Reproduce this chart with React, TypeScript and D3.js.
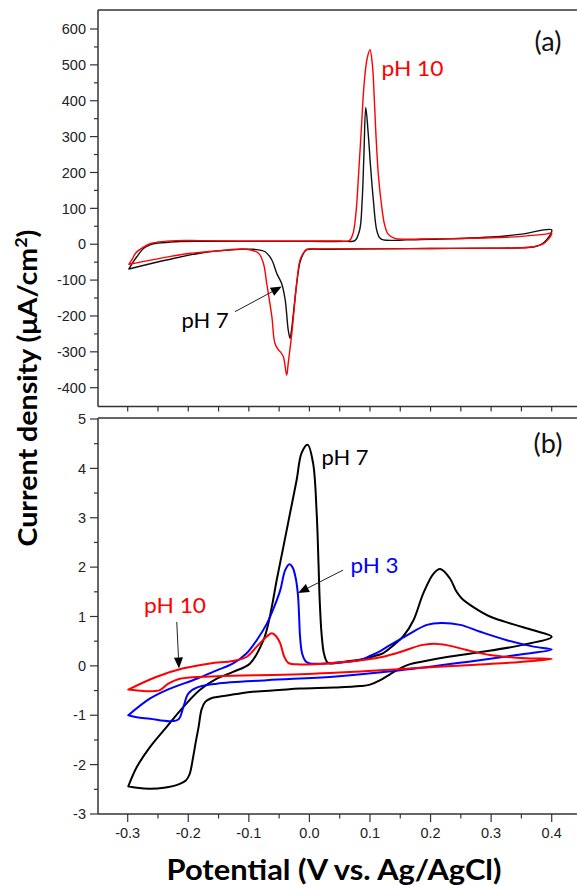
import React from 'react';
import * as d3 from 'd3';

// ---------- tick values / labels ----------
const xTickValues = [-0.3, -0.2, -0.1, 0.0, 0.1, 0.2, 0.3, 0.4];
const xTickLabels = ['-0.3', '-0.2', '-0.1', '0.0', '0.1', '0.2', '0.3', '0.4'];
const topYTickValues = [600, 500, 400, 300, 200, 100, 0, -100, -200, -300, -400];
const topYTickLabels = ['600', '500', '400', '300', '200', '100', '0', '-100', '-200', '-300', '-400'];
const bottomYTickValues = [5, 4, 3, 2, 1, 0, -1, -2, -3];
const bottomYTickLabels = ['5', '4', '3', '2', '1', '0', '-1', '-2', '-3'];

// ---------- panel (a): potential (V), current density (µA/cm²) ----------
const topPh7: [number, number][] = [
  [-0.298, -69], [-0.292, -52], [-0.285, -35], [-0.274, -12], [-0.262, -1], [-0.25, 3], [-0.22, 7],
  [-0.18, 8], [-0.1, 8], [0.0, 8], [0.06, 8], [0.075, 10], [0.083, 40], [0.087, 120], [0.09, 250],
  [0.093, 381], [0.097, 310], [0.101, 216], [0.1055, 124], [0.111, 40], [0.116, 18], [0.122, 12],
  [0.16, 12], [0.2, 14], [0.25, 16], [0.3, 20], [0.35, 28], [0.4, 40],
  [0.395, 20], [0.385, 2], [0.372, -7], [0.35, -10], [0.3, -11], [0.2, -12], [0.1, -13], [0.02, -14],
  [-0.005, -16], [-0.011, -30], [-0.0155, -50], [-0.021, -109], [-0.027, -202], [-0.03, -245],
  [-0.032, -262], [-0.035, -239], [-0.04, -155], [-0.046, -109], [-0.054, -81], [-0.062, -44],
  [-0.073, -21], [-0.093, -14], [-0.115, -14.5], [-0.181, -25], [-0.236, -44], [-0.298, -69],
];
const topPh10: [number, number][] = [
  [-0.298, -56], [-0.292, -40], [-0.287, -25], [-0.274, -8], [-0.262, 2], [-0.25, 6], [-0.22, 10],
  [-0.18, 10], [-0.1, 9], [0.0, 9], [0.05, 9], [0.066, 10], [0.072, 30], [0.077, 90], [0.081, 190],
  [0.086, 330], [0.09, 440], [0.095, 515], [0.1, 542], [0.104, 500], [0.107, 410], [0.11, 300],
  [0.114, 190], [0.119, 110], [0.124, 55], [0.13, 28], [0.14, 17], [0.16, 14], [0.2, 15], [0.25, 16],
  [0.3, 18], [0.35, 22], [0.39, 28], [0.4, 31],
  [0.395, 15], [0.385, 0], [0.37, -7], [0.35, -10], [0.3, -11], [0.2, -12], [0.1, -13], [0.02, -13],
  [-0.004, -14], [-0.01, -25], [-0.0155, -44], [-0.021, -109], [-0.029, -248], [-0.035, -332],
  [-0.0375, -365], [-0.043, -314], [-0.048, -300], [-0.051, -295], [-0.057, -276], [-0.062, -202],
  [-0.0705, -109], [-0.076, -53], [-0.084, -25], [-0.104, -14], [-0.15, -18], [-0.2, -26],
  [-0.236, -36], [-0.298, -56],
];

// ---------- panel (b) ----------
const botPh7: [number, number][] = [
  [-0.299, -2.44], [-0.285, -2.47], [-0.264, -2.49], [-0.24, -2.47], [-0.214, -2.39], [-0.204, -2.32],
  [-0.198, -2.2], [-0.192, -1.85], [-0.187, -1.5], [-0.183, -1.24], [-0.178, -0.88], [-0.172, -0.73],
  [-0.163, -0.66], [-0.153, -0.63], [-0.12, -0.57], [-0.098, -0.53], [-0.05, -0.49], [-0.015, -0.46],
  [0.04, -0.44], [0.084, -0.41], [0.1, -0.38], [0.117, -0.29], [0.133, -0.17], [0.15, -0.05],
  [0.165, 0.03], [0.183, 0.08], [0.227, 0.18], [0.283, 0.28], [0.35, 0.42], [0.4, 0.59],
  [0.37, 0.72], [0.337, 0.84], [0.298, 1.0], [0.272, 1.18], [0.252, 1.36], [0.243, 1.5], [0.232, 1.77],
  [0.216, 1.96], [0.205, 1.87], [0.188, 1.47], [0.172, 0.93], [0.155, 0.6], [0.139, 0.42],
  [0.122, 0.26], [0.105, 0.19], [0.085, 0.13], [0.067, 0.1], [0.045, 0.06], [0.034, 0.05],
  [0.029, 0.08], [0.024, 0.25], [0.02, 0.66], [0.017, 1.33], [0.015, 2.08], [0.012, 3.09],
  [0.006, 4.11], [-0.003, 4.48], [-0.013, 4.31], [-0.021, 3.77], [-0.032, 3.09], [-0.043, 2.41],
  [-0.054, 1.74], [-0.06, 1.33], [-0.068, 0.85], [-0.076, 0.52], [-0.098, 0.05], [-0.126, -0.12],
  [-0.153, -0.26], [-0.181, -0.49], [-0.208, -0.83], [-0.236, -1.24], [-0.263, -1.64],
  [-0.285, -2.05], [-0.299, -2.44],
];
const botPh3: [number, number][] = [
  [-0.299, -1.0], [-0.285, -1.04], [-0.263, -1.07], [-0.23, -1.12], [-0.216, -1.08], [-0.208, -0.83],
  [-0.2, -0.56], [-0.186, -0.44], [-0.153, -0.36], [-0.0705, -0.29], [0.039, -0.22], [0.15, -0.09],
  [0.26, 0.08], [0.342, 0.22], [0.4, 0.33],
  [0.37, 0.39], [0.326, 0.52], [0.282, 0.69], [0.249, 0.83], [0.218, 0.87], [0.194, 0.83],
  [0.161, 0.62], [0.133, 0.42], [0.117, 0.3], [0.1, 0.2], [0.084, 0.12], [0.039, 0.06], [0.001, 0.05],
  [-0.006, 0.09], [-0.012, 0.25], [-0.0155, 0.6], [-0.017, 1.0], [-0.019, 1.45], [-0.023, 1.8],
  [-0.028, 2.0], [-0.033, 2.06], [-0.04, 1.94], [-0.048, 1.54], [-0.058, 1.2], [-0.07, 0.86],
  [-0.087, 0.52], [-0.104, 0.25], [-0.126, 0.05], [-0.153, -0.09], [-0.186, -0.26], [-0.236, -0.49],
  [-0.263, -0.66], [-0.299, -1.0],
];
const botPh10: [number, number][] = [
  [-0.299, -0.48], [-0.274, -0.51], [-0.247, -0.49], [-0.233, -0.36], [-0.214, -0.26], [-0.153, -0.21],
  [-0.015, -0.17], [0.117, -0.09], [0.172, -0.05], [0.227, -0.01], [0.282, 0.03], [0.348, 0.08],
  [0.4, 0.14],
  [0.37, 0.15], [0.337, 0.17], [0.298, 0.22], [0.26, 0.32], [0.227, 0.42], [0.205, 0.45],
  [0.185, 0.42], [0.15, 0.28], [0.12, 0.18], [0.095, 0.13], [0.039, 0.06], [-0.015, 0.03],
  [-0.035, 0.06], [-0.042, 0.2], [-0.048, 0.45], [-0.055, 0.6], [-0.062, 0.66], [-0.07, 0.6],
  [-0.087, 0.39], [-0.104, 0.18], [-0.126, 0.1], [-0.164, 0.05], [-0.208, -0.05], [-0.252, -0.22],
  [-0.299, -0.48],
];

// ---------- annotations (data coordinates) ----------
const topLabels = [
  { text: 'pH 10', x: 0.119, y: 469, color: '#ff0000', len: 62 },
  { text: 'pH 7', x: -0.211, y: -233, color: '#000000', len: 47 },
];
const topArrows = [{ from: [-0.1228, -188], to: [-0.0457, -118] }];
const botLabels = [
  { text: 'pH 7', x: 0.02, y: 4.07, color: '#000000', len: 47 },
  { text: 'pH 3', x: 0.068, y: 1.89, color: '#0000ff', len: 48 },
  { text: 'pH 10', x: -0.273, y: 1.07, color: '#ff0000', len: 62 },
];
const botArrows = [
  { from: [0.0555, 1.94], to: [-0.0188, 1.475] },
  { from: [-0.219, 0.89], to: [-0.2153, -0.053] },
];

const W = 577;
const H = 885;
const AX = 98;
const TOP_T = 10;
const TOP_B = 406.5;
const BOT_T = 418;
const BOT_B = 814;
const RIGHT = 600;
const AXIS_COLOR = '#333333';
const TICK_FONT = '"Liberation Sans", Arial, sans-serif';
const LABEL_FONT = 'Lato, "Open Sans", sans-serif';

const x = d3.scaleLinear().domain([-0.3, 0.4]).range([127.7, 551.7]);
const yTop = d3.scaleLinear().domain([600, -400]).range([29, 387.7]);
const yBot = d3.scaleLinear().domain([5, -3]).range([419, 814]);

function Arrow({ x1, y1, x2, y2 }: { x1: number; y1: number; x2: number; y2: number }) {
  const ang = Math.atan2(y2 - y1, x2 - x1);
  const L = 11;
  const Wd = 4.5;
  const bx = x2 - L * Math.cos(ang);
  const by = y2 - L * Math.sin(ang);
  const px = -Math.sin(ang) * Wd;
  const py = Math.cos(ang) * Wd;
  return (
    <g>
      <line x1={x1} y1={y1} x2={bx} y2={by} stroke="#222" strokeWidth={1} />
      <polygon points={`${x2},${y2} ${bx + px},${by + py} ${bx - px},${by - py}`} fill="#000" />
    </g>
  );
}

export default function App() {
  const lineTop = d3
    .line<[number, number]>()
    .x((d) => x(d[0]))
    .y((d) => yTop(d[1]))
    .curve(d3.curveCatmullRom.alpha(0.5));
  const lineBot = d3
    .line<[number, number]>()
    .x((d) => x(d[0]))
    .y((d) => yBot(d[1]))
    .curve(d3.curveCatmullRom.alpha(0.5));

  const xMinor = xTickValues.map((v) => v + 0.05);
  const xAllTop = [...xTickValues, ...xMinor, -0.35];
  const topMinor = topYTickValues.slice(0, -1).map((v) => v - 50).concat([-450 + 0.0001, 650]);
  const botMinor = bottomYTickValues.slice(0, -1).map((v) => v - 0.5);

  return (
    <svg
      width={W}
      height={H}
      style={{ position: 'absolute', left: 0, top: 0, background: '#fff' }}
      xmlns="http://www.w3.org/2000/svg"
    >
      <rect x={0} y={0} width={W} height={H} fill="#fff" />
      {/* ---------- frames ---------- */}
      <g stroke={AXIS_COLOR} strokeWidth={1.5} fill="none">
        <line x1={AX} y1={TOP_T} x2={RIGHT} y2={TOP_T} />
        <line x1={AX} y1={TOP_T} x2={AX} y2={TOP_B} />
        <line x1={AX} y1={TOP_B} x2={RIGHT} y2={TOP_B} />
        <line x1={AX} y1={BOT_T} x2={RIGHT} y2={BOT_T} />
        <line x1={AX} y1={BOT_T} x2={AX} y2={BOT_B} />
        <line x1={AX} y1={BOT_B} x2={RIGHT} y2={BOT_B} />
      </g>
      {/* ---------- top y ticks ---------- */}
      <g stroke={AXIS_COLOR} strokeWidth={1.2}>
        {topYTickValues.map((v) => (
          <line key={'ty' + v} x1={AX - 8} x2={AX} y1={yTop(v)} y2={yTop(v)} />
        ))}
        {topMinor
          .filter((v) => yTop(v) > TOP_T + 2 && yTop(v) < TOP_B - 2)
          .map((v) => (
            <line key={'tym' + v} x1={AX - 4} x2={AX} y1={yTop(v)} y2={yTop(v)} />
          ))}
        {xAllTop
          .filter((v) => x(v) > AX + 2 && x(v) < W)
          .map((v) => (
            <line key={'tx' + v} x1={x(v)} x2={x(v)} y1={TOP_B} y2={TOP_B + 5} />
          ))}
      </g>
      <g fontFamily={TICK_FONT} fontSize={14.5} fill="#222" textAnchor="end">
        {topYTickValues.map((v, i) => (
          <text key={'tyl' + v} x={AX - 12} y={yTop(v)} dy="0.36em">
            {topYTickLabels[i]}
          </text>
        ))}
      </g>
      {/* ---------- bottom y ticks ---------- */}
      <g stroke={AXIS_COLOR} strokeWidth={1.2}>
        {bottomYTickValues.map((v) => (
          <line key={'by' + v} x1={AX - 8} x2={AX} y1={yBot(v)} y2={yBot(v)} />
        ))}
        {botMinor.map((v) => (
          <line key={'bym' + v} x1={AX - 4} x2={AX} y1={yBot(v)} y2={yBot(v)} />
        ))}
        {xTickValues.map((v) => (
          <line key={'bx' + v} x1={x(v)} x2={x(v)} y1={BOT_B} y2={BOT_B + 8} />
        ))}
        {xMinor
          .concat([-0.35])
          .filter((v) => x(v) > AX + 2 && x(v) < W)
          .map((v) => (
            <line key={'bxm' + v} x1={x(v)} x2={x(v)} y1={BOT_B} y2={BOT_B + 4.5} />
          ))}
      </g>
      <g fontFamily={TICK_FONT} fontSize={14.5} fill="#222" textAnchor="end">
        {bottomYTickValues.map((v, i) => (
          <text key={'byl' + v} x={AX - 12} y={yBot(v)} dy="0.36em">
            {bottomYTickLabels[i]}
          </text>
        ))}
      </g>
      <g fontFamily={TICK_FONT} fontSize={14.5} fill="#222" textAnchor="middle">
        {xTickValues.map((v, i) => (
          <text key={'bxl' + v} x={x(v)} y={838}>
            {xTickLabels[i]}
          </text>
        ))}
      </g>
      {/* ---------- curves ---------- */}
      <g fill="none" strokeLinejoin="round" strokeLinecap="round">
        <path d={lineTop(topPh7) || ''} stroke="#111" strokeWidth={1.4} />
        <path d={lineTop(topPh10) || ''} stroke="#ff0000" strokeWidth={1.4} />
        <path d={lineBot(botPh7) || ''} stroke="#000" strokeWidth={2} />
        <path d={lineBot(botPh3) || ''} stroke="#0000ff" strokeWidth={2} />
        <path d={lineBot(botPh10) || ''} stroke="#ff0000" strokeWidth={2} />
      </g>
      {/* ---------- annotations ---------- */}
      {topArrows.map((a, i) => (
        <Arrow key={'ta' + i} x1={x(a.from[0])} y1={yTop(a.from[1])} x2={x(a.to[0])} y2={yTop(a.to[1])} />
      ))}
      {botArrows.map((a, i) => (
        <Arrow key={'ba' + i} x1={x(a.from[0])} y1={yBot(a.from[1])} x2={x(a.to[0])} y2={yBot(a.to[1])} />
      ))}
      <g fontFamily={LABEL_FONT} fontSize={22}>
        {topLabels.map((l) => (
          <text key={'tl' + l.text} x={x(l.x)} y={yTop(l.y)} fill={l.color} textLength={l.len} lengthAdjust="spacingAndGlyphs">
            {l.text}
          </text>
        ))}
        {botLabels.map((l) => (
          <text key={'bl' + l.text} x={x(l.x)} y={yBot(l.y)} fill={l.color} textLength={l.len} lengthAdjust="spacingAndGlyphs">
            {l.text}
          </text>
        ))}
      </g>
      <g fontFamily={LABEL_FONT} fontSize={27} fill="#111" textAnchor="middle">
        <text x={548} y={51}>(a)</text>
        <text x={548} y={453}>(b)</text>
      </g>
      {/* ---------- axis titles ---------- */}
      <text
        x={334}
        y={880}
        fontFamily={LABEL_FONT}
        fontWeight="bold"
        fontSize={28}
        textAnchor="middle"
        textLength={335}
        lengthAdjust="spacingAndGlyphs"
        fill="#000"
      >
        Potential (V vs. Ag/AgCl)
      </text>
      <text
        transform="translate(37,388) rotate(-90)"
        fontFamily={LABEL_FONT}
        fontWeight="bold"
        fontSize={27}
        textAnchor="middle"
        textLength={317}
        lengthAdjust="spacingAndGlyphs"
        fill="#000"
      >
        Current density (μA/cm<tspan fontSize={17} dy={-10}>2</tspan>
        <tspan dy={10}>)</tspan>
      </text>
    </svg>
  );
}
